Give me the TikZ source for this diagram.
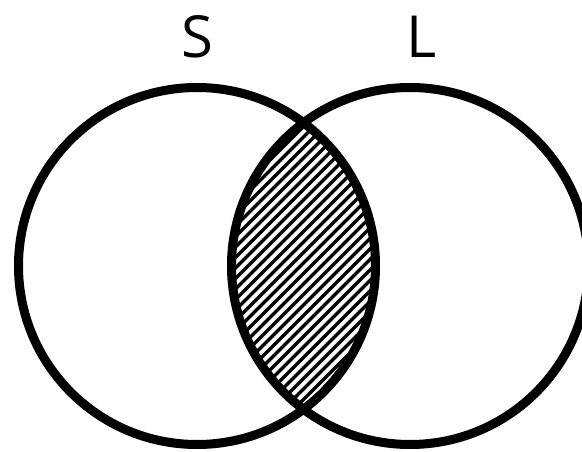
\documentclass[tikz,border=0pt]{standalone}
\usepackage{fontspec}
\setmainfont{Open Sans}
\begin{document}
\begin{tikzpicture}[x=1pt,y=1pt]
        \useasboundingbox (0,0) rectangle (582,451);
        \coordinate (cs) at (197,185);
        \coordinate (cl) at (410,185);
        % hatch the overlap
        \begin{scope}
            \clip (cs) circle (178.5pt);
            \clip (cl) circle (178.5pt);
            \foreach \i in {-12,...,34} {
                \draw[line width=3.2pt] (\i*10.5,0) -- ++(451,451);
            }
        \end{scope}
        \draw[line width=9pt] (cs) circle (178.5pt);
        \draw[line width=9pt] (cl) circle (178.5pt);
        \node[font=\fontsize{58}{60}\selectfont] (S) at (197,414) {S};
        \node[font=\fontsize{58}{60}\selectfont] (L) at (422,414) {L};
    \end{tikzpicture}
\end{document}
